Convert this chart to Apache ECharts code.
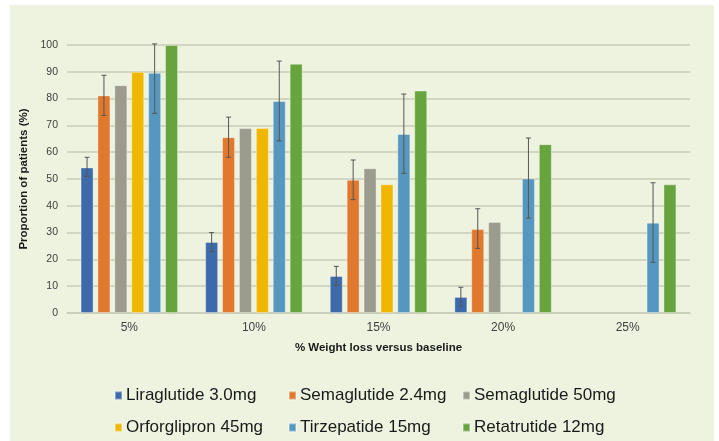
<!DOCTYPE html>
<html>
<head>
<meta charset="utf-8">
<script src="https://cdn.jsdelivr.net/npm/echarts@6/dist/echarts.min.js"></script>
<style>
  body { margin: 0; background: #fff; }
  #bg { position: absolute; left: 10px; top: 5px; width: 704px; height: 436px; background: #eef3df; }
  #chart { position: absolute; left: 0; top: 0; width: 719px; height: 441px; }
</style>
</head>
<body>
<div id="bg"></div>
<div id="chart"></div>
<script>
const categories = ["5%", "10%", "15%", "20%", "25%"];
const seriesNames = [
  "Liraglutide 3.0mg",
  "Semaglutide 2.4mg",
  "Semaglutide 50mg",
  "Orforglipron 45mg",
  "Tirzepatide 15mg",
  "Retatrutide 12mg",
];
const colors = ["#3d6aaa", "#e0782e", "#9b9b8e", "#efb700", "#5597bf", "#67a43e"];

// bar heights (%), "-" = no bar
const liraglutide = [54.3, 26.5, 13.8, 6.0, "-"];
const semaglutide24 = [81.2, 65.6, 49.7, 31.3, "-"];
const semaglutide50 = [85, 69, 54, 34, "-"];
const orforglipron = [90, 69, 48, "-", "-"];
const tirzepatide = [89.6, 79.1, 66.8, 50.2, 33.7];
const retatrutide = [100, 93, 83, 63, 48];

// error bars [low, high], null = none
const liraglutideErr = [[51, 58.1], [23, 30], [10.3, 17.4], [2.6, 9.6], null];
const semaglutide24Err = [[73.7, 88.7], [58.1, 73.1], [42.3, 57.1], [24.1, 38.9], null];
const tirzepatideErr = [[74.5, 100.4], [64.2, 94.0], [52.1, 81.7], [35.4, 65.3], [18.9, 48.6]];

const yTicks = [0, 10, 20, 30, 40, 50, 60, 70, 80, 90, 100];

const values = [liraglutide, semaglutide24, semaglutide50, orforglipron, tirzepatide, retatrutide];
const errors = [
  { idx: 0, data: liraglutideErr },
  { idx: 1, data: semaglutide24Err },
  { idx: 4, data: tirzepatideErr },
];

const BAR_W = 13;
const BAR_GAP = 0.3;
const step = BAR_W * (1 + BAR_GAP);
const groupW = 6 * BAR_W + 5 * BAR_W * BAR_GAP;

const font = "'Liberation Sans', Arial, sans-serif";
const myChart = echarts.init(document.getElementById("chart"));

const series = values.map((v, i) => ({
  name: seriesNames[i],
  type: "bar",
  data: v,
  barWidth: BAR_W,
  barGap: BAR_GAP * 100 + "%",
  itemStyle: { color: colors[i], borderColor: "rgba(255,255,255,0.35)", borderWidth: 1 },
  emphasis: { disabled: true },
}));

errors.forEach((e) => {
  const offset = -groupW / 2 + BAR_W / 2 + e.idx * step;
  const data = [];
  e.data.forEach((d, c) => {
    if (d) data.push([c, d[0], d[1]]);
  });
  series.push({
    type: "custom",
    data: data,
    z: 10,
    clip: false,
    silent: true,
    renderItem: function (params, api) {
      const x = api.coord([api.value(0), 0])[0] + offset;
      const yLo = api.coord([api.value(0), api.value(1)])[1];
      const yHi = api.coord([api.value(0), api.value(2)])[1];
      const style = { stroke: "#555", lineWidth: 1 };
      return {
        type: "group",
        children: [
          { type: "line", shape: { x1: x, y1: yLo, x2: x, y2: yHi }, style: style },
          { type: "line", shape: { x1: x - 2.5, y1: yHi, x2: x + 2.5, y2: yHi }, style: style },
          { type: "line", shape: { x1: x - 2.5, y1: yLo, x2: x + 2.5, y2: yLo }, style: style },
        ],
      };
    },
  });
});

const legendPos = [
  [114, 387], [288, 387], [462, 387],
  [114, 419], [288, 419], [462, 419],
];
const legends = seriesNames.map((n, i) => ({
  data: [n],
  left: legendPos[i][0],
  top: legendPos[i][1],
  padding: 0,
  itemWidth: 7,
  itemHeight: 8,
  icon: "rect",
  selectedMode: false,
  textStyle: { fontFamily: font, fontSize: 17, color: "#1a1a1a", padding: [0, 0, 0, -1] },
}));

myChart.setOption({
  animation: false,
  backgroundColor: "transparent",
  color: colors,
  legend: legends,
  grid: { left: 67, right: 29, top: 45, bottom: 128 },
  xAxis: {
    type: "category",
    data: categories,
    axisTick: { show: false },
    axisLine: { lineStyle: { color: "#c8ccb6", width: 1.5 } },
    axisLabel: { color: "#404040", fontFamily: font, fontSize: 12, margin: 9 },
    name: "% Weight loss versus baseline",
    nameLocation: "middle",
    nameGap: 29,
    nameTextStyle: { fontFamily: font, fontSize: 11.5, fontWeight: "bold", color: "#1a1a1a" },
  },
  yAxis: {
    type: "value",
    min: yTicks[0],
    max: yTicks[yTicks.length - 1],
    interval: 10,
    axisLine: { show: false },
    axisTick: { show: false },
    splitLine: { lineStyle: { color: "#c8ccb6", width: 1.5 } },
    axisLabel: { color: "#404040", fontFamily: font, fontSize: 10.5, margin: 9 },
    name: "Proportion of patients (%)",
    nameLocation: "middle",
    nameGap: 35,
    nameTextStyle: { fontFamily: font, fontSize: 11.5, fontWeight: "bold", color: "#1a1a1a" },
  },
  series: series,
});
</script>
</body>
</html>
